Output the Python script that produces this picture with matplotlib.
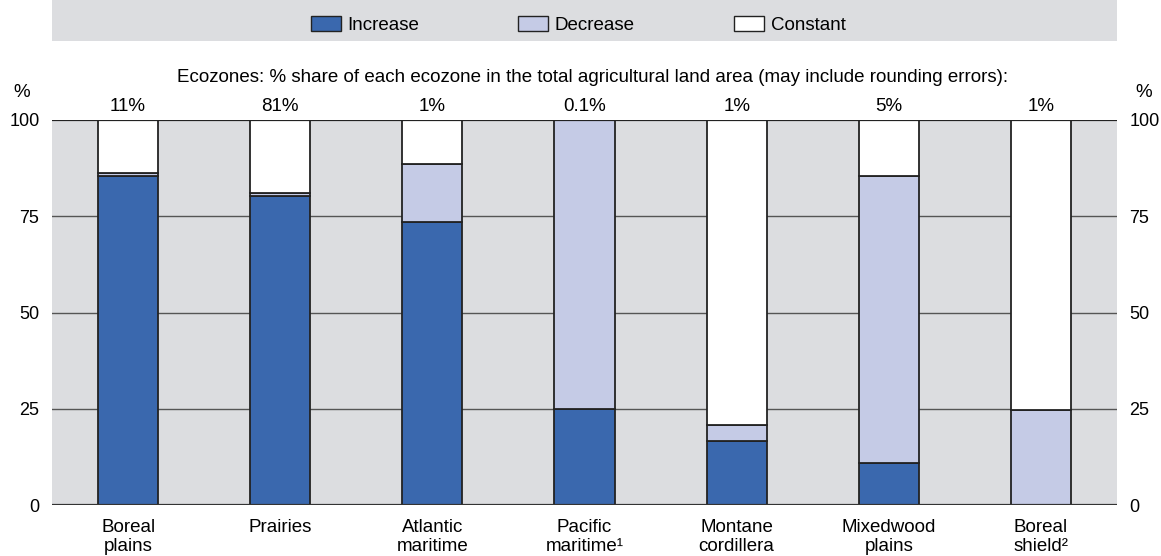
import matplotlib.pyplot as plt
import numpy as np
from matplotlib.patches import Patch, Rectangle

# data
zones = ['Boreal\nplains', 'Prairies', 'Atlantic\nmaritime', 'Pacific\nmaritime\u00b9',
         'Montane\ncordillera', 'Mixedwood\nplains', 'Boreal\nshield\u00b2']
shares = ['11%', '81%', '1%', '0.1%', '1%', '5%', '1%']
increase = [85.5, 80.2, 73.5, 25.0, 16.5, 11.0, 0.0]
decrease = [0.8, 0.8, 15.0, 75.0, 4.3, 74.5, 24.7]
constant = [100 - a - b for a, b in zip(increase, decrease)]

c_inc = '#3a68ae'
c_dec = '#c5cbe6'
c_con = '#ffffff'
bg = '#dcdde0'
font = ['Liberation Sans', 'DejaVu Sans']

fig = plt.figure(figsize=(11.61, 5.56), dpi=100)
ax = fig.add_axes([52/1161, 1 - 505/556, (1117-52)/1161, 385/556])
ax.set_facecolor(bg)

x = np.arange(len(zones))
w = 0.395
ec = '#222222'
ax.bar(x, increase, w, color=c_inc, edgecolor=ec, linewidth=1.3, zorder=3)
ax.bar(x, decrease, w, bottom=increase, color=c_dec, edgecolor=ec, linewidth=1.3, zorder=3)
ax.bar(x, constant, w, bottom=np.add(increase, decrease), color=c_con, edgecolor=ec, linewidth=1.3, zorder=3)

for yy in [25, 50, 75]:
    ax.axhline(yy, color='#555555', linewidth=1.0, zorder=1)
ax.axhline(0, color='#333333', linewidth=1.6, zorder=4)
ax.axhline(100, color='#222222', linewidth=1.6, zorder=4)

ax.set_xlim(-0.5, 6.5)
ax.set_ylim(0, 100)
for s in ax.spines.values():
    s.set_visible(False)

ax.set_yticks([0, 25, 50, 75, 100])
ax.tick_params(axis='y', which='both', length=0, labelsize=13)
ax.tick_params(axis='y', left=False, labelleft=True, pad=13)
ax.tick_params(axis='y', right=False, labelright=True, pad=9)
for lab in ax.get_yticklabels(which='both'):
    lab.set_family(font)
ax.set_xticks(x)
ax.set_xticklabels(zones, fontsize=13.5, family=font, linespacing=1.2)
ax.tick_params(axis='x', length=0, pad=10)

for i, s in enumerate(shares):
    ax.text(x[i], 101.2, s, ha='center', va='bottom', fontsize=13.5, family=font)

ax.text(-0.028, 1.05, '%', transform=ax.transAxes, ha='center', va='bottom', fontsize=13.5, family=font)
ax.text(1.025, 1.05, '%', transform=ax.transAxes, ha='center', va='bottom', fontsize=13.5, family=font)

fig.text(0.51, 1 - 77/556, 'Ecozones: % share of each ecozone in the total agricultural land area (may include rounding errors):',
         ha='center', va='center', fontsize=13.5, family=font)

# legend band
fig.patches.append(Rectangle((52/1161, 1 - 41/556), (1117-52)/1161, 41/556,
                             transform=fig.transFigure, facecolor=bg, edgecolor='none'))
handles = [Patch(facecolor=c_inc, edgecolor=ec, label='Increase'),
           Patch(facecolor=c_dec, edgecolor=ec, label='Decrease'),
           Patch(facecolor=c_con, edgecolor=ec, label='Constant')]
leg = fig.legend(handles=handles, loc='center', bbox_to_anchor=(0.498, 1 - 25/556), ncol=3,
                 frameon=False, prop={'family': font, 'size': 13.5},
                 handlelength=1.6, handleheight=0.9, handletextpad=0.35, columnspacing=5.3)

fig.savefig('out.png', dpi=100)
